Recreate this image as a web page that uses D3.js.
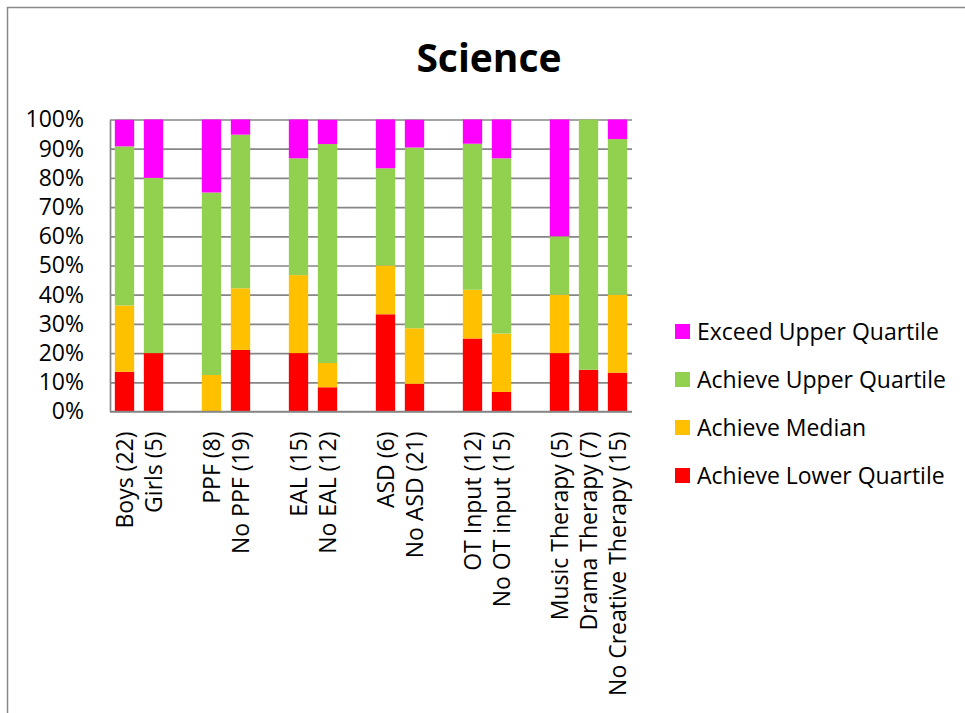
<!DOCTYPE html>
<html>
<head>
<meta charset="utf-8">
<script src="https://cdn.jsdelivr.net/npm/d3@7"></script>
<style>
  html, body { margin: 0; padding: 0; background: #fff; }
  svg { display: block; }
  text { font-family: "Open Sans", "Liberation Sans", sans-serif; fill: #000; }
</style>
</head>
<body>
<svg id="chart" width="965" height="713"></svg>
<script>
// ---- Data (percent of pupils per group) ----
const categories = [
  "Boys (22)", "Girls (5)", "",
  "PPF (8)", "No PPF (19)", "",
  "EAL (15)", "No EAL (12)", "",
  "ASD (6)", "No ASD (21)", "",
  "OT Input (12)", "No OT input (15)", "",
  "Music Therapy (5)", "Drama Therapy (7)", "No Creative Therapy (15)"
];
const lowerQuartile = [13.6, 20.0, null, 0.0, 21.1, null, 20.0, 8.3, null, 33.3, 9.5, null, 25.0, 6.7, null, 20.0, 14.3, 13.3];
const median        = [22.7, 0.0, null, 12.5, 21.1, null, 26.7, 8.3, null, 16.7, 19.0, null, 16.7, 20.0, null, 20.0, 0.0, 26.7];
const upperQuartile = [54.5, 60.0, null, 62.5, 52.6, null, 40.0, 75.0, null, 33.3, 61.9, null, 50.0, 60.0, null, 20.0, 85.7, 53.3];
const exceedUpper   = [9.1, 20.0, null, 25.0, 5.3, null, 13.3, 8.3, null, 16.7, 9.5, null, 8.3, 13.3, null, 40.0, 0.0, 6.7];
const seriesNames = ["Achieve Lower Quartile", "Achieve Median", "Achieve Upper Quartile", "Exceed Upper Quartile"];
const seriesColors = ["#FF0000", "#FFC000", "#92D050", "#FF00FF"];
const yTicks = [0, 10, 20, 30, 40, 50, 60, 70, 80, 90, 100];
const chartTitle = "Science";

// ---- Layout ----
const svg = d3.select("#chart");
const plot = { left: 110, right: 632, top: 119.5, bottom: 411.5 };
const fs = "23px";

svg.append("rect")
  .attr("x", 7.5).attr("y", 7.5).attr("width", 970).attr("height", 720)
  .attr("fill", "#fff").attr("stroke", "#888").attr("stroke-width", 1.5);

const x = d3.scaleBand()
  .domain(d3.range(categories.length))
  .range([plot.left, plot.right])
  .paddingInner(1 / 3).paddingOuter(1 / 6);

const y = d3.scaleLinear().domain([0, 100]).range([plot.bottom, plot.top]);

// gridlines
const grid = svg.append("g").attr("transform", `translate(${plot.left},0)`)
  .call(d3.axisLeft(y).tickValues(yTicks).tickSize(-(plot.right - plot.left)).tickFormat(""));
grid.select(".domain").remove();
grid.selectAll(".tick line").attr("stroke", "#868686").attr("stroke-width", 1.7);

// stacked bars
const rows = categories.map((c, i) => ({
  idx: i,
  s0: lowerQuartile[i], s1: median[i], s2: upperQuartile[i], s3: exceedUpper[i]
})).filter(d => d.s0 !== null);
const stack = d3.stack().keys(["s0", "s1", "s2", "s3"]);
const stacked = stack(rows);

svg.append("g").selectAll("g")
  .data(stacked).join("g")
  .attr("fill", (d, i) => seriesColors[i])
  .selectAll("rect")
  .data(d => d.filter(p => p[1] - p[0] > 0))
  .join("rect")
  .attr("x", d => x(d.data.idx))
  .attr("width", x.bandwidth())
  .attr("y", d => y(Math.min(100, d[1])))
  .attr("height", d => y(d[0]) - y(Math.min(100, d[1])));

// y axis
const yAxis = svg.append("g").attr("transform", `translate(${plot.left},0)`)
  .call(d3.axisLeft(y).tickValues(yTicks).tickSize(0).tickPadding(26).tickFormat(d => d + "%"));
yAxis.select(".domain").attr("stroke", "#868686").attr("stroke-width", 1.7);
yAxis.selectAll("text").style("font-size", fs).attr("fill", "#000").attr("font-family", null);

// x axis
const xAxis = svg.append("g").attr("transform", `translate(0,${plot.bottom})`)
  .call(d3.axisBottom(x).tickSize(0).tickFormat(i => categories[i]));
xAxis.select(".domain").attr("stroke", "#868686").attr("stroke-width", 1.7)
  .attr("d", `M${plot.left},0H${plot.right}`);
xAxis.selectAll("text")
  .style("font-size", fs).attr("font-family", null).attr("fill", "#000")
  .attr("text-anchor", "end")
  .attr("dy", "0.36em")
  .attr("transform", "rotate(-90)")
  .attr("x", -20).attr("y", 0);

// title
svg.append("text")
  .attr("x", 489).attr("y", 72)
  .attr("text-anchor", "middle")
  .style("font-size", "39px").style("font-weight", "bold")
  .text(chartTitle);

// legend (top to bottom: reverse order of stacking)
const legendOrder = [3, 2, 1, 0];
const legend = svg.append("g");
legendOrder.forEach((si, k) => {
  const cy = 331.5 + k * 48;
  legend.append("rect").attr("x", 675).attr("y", cy - 7.5).attr("width", 15).attr("height", 15)
    .attr("fill", seriesColors[si]);
  legend.append("text").attr("x", 697).attr("y", cy).attr("dy", "0.36em")
    .style("font-size", fs).text(seriesNames[si]);
});
</script>
</body>
</html>
